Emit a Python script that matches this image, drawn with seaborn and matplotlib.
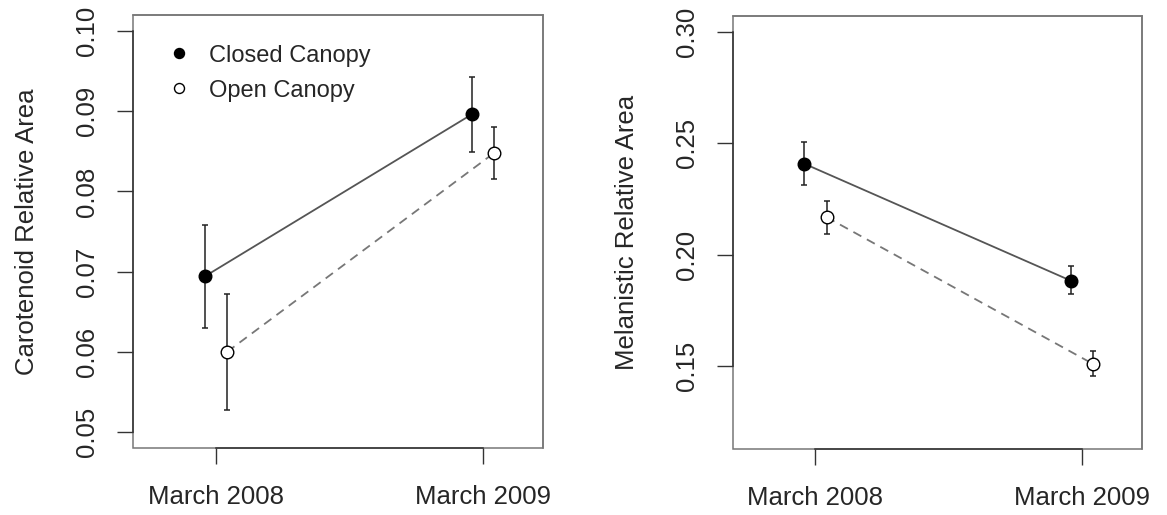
import numpy as np
import pandas as pd
import matplotlib
matplotlib.use("Agg")
import matplotlib.pyplot as plt
from matplotlib.lines import Line2D
import seaborn as sns

# ---- data ----
periods = ["March 2008", "March 2009"]
groups = ["Closed Canopy", "Open Canopy"]

carot_closed = [0.0694, 0.0896]
carot_closed_lo = [0.0630, 0.0849]
carot_closed_hi = [0.0758, 0.0943]
carot_open = [0.0600, 0.0848]
carot_open_lo = [0.0528, 0.0815]
carot_open_hi = [0.0672, 0.0880]

mel_closed = [0.2408, 0.1883]
mel_closed_lo = [0.2313, 0.1823]
mel_closed_hi = [0.2503, 0.1947]
mel_open = [0.2168, 0.1509]
mel_open_lo = [0.2093, 0.1456]
mel_open_hi = [0.2242, 0.1566]

carot_ticks = [0.05, 0.06, 0.07, 0.08, 0.09, 0.10]
mel_ticks = [0.15, 0.20, 0.25, 0.30]

sns.set_theme(style="white")
plt.rcParams['font.family'] = ['Liberation Sans', 'DejaVu Sans']

fig = plt.figure(figsize=(11.67, 5.15), dpi=100)
ax1 = fig.add_axes([0.1142, 0.1301, 0.3513, 0.8408])
ax2 = fig.add_axes([0.6278, 0.1282, 0.3510, 0.8414])

def build(closed, clo, chi, opn, olo, ohi):
    rows = []
    for g, vals, lo, hi in [(groups[0], closed, clo, chi), (groups[1], opn, olo, ohi)]:
        for i, p in enumerate(periods):
            rows.append(dict(group=g, period=p, idx=i + 1, value=vals[i], lo=lo[i], hi=hi[i]))
    return pd.DataFrame(rows)

styles = {
    groups[0]: dict(off=-0.042, ls="-", lc="#555555", mfc="black"),
    groups[1]: dict(off=0.042, ls=(0, (5, 3.5)), lc="#777777", mfc="white"),
}

def draw(ax, df, ticks, ylim, ylabel):
    df = df.copy()
    df["xpos"] = df["idx"] + df["group"].map({g: styles[g]["off"] for g in groups})
    for g in groups:
        sub = df[df["group"] == g]
        st = styles[g]
        sns.lineplot(data=sub, x="xpos", y="value", ax=ax, color=st["lc"], lw=1.3,
                     dashes=False, legend=False, estimator=None, sort=False, zorder=2)
        ax.lines[-1].set_linestyle(st["ls"])
        ax.errorbar(sub["xpos"], sub["value"],
                    yerr=[sub["value"] - sub["lo"], sub["hi"] - sub["value"]],
                    fmt="none", ecolor="#222222", elinewidth=1.1, capsize=1.9, capthick=1.1, zorder=3)
        sns.scatterplot(data=sub, x="xpos", y="value", ax=ax, s=82, color=st["mfc"],
                        edgecolor="black", linewidth=1.0, legend=False, zorder=4)
    ax.set_xlim(0.690, 2.226)
    ax.set_ylim(*ylim)
    ax.set_xticks([1, 2])
    ax.set_xticklabels(periods)
    ax.set_yticks(ticks)
    ax.set_yticklabels([f"{t:.2f}" for t in ticks], rotation=90, va="center")
    ax.set_xlabel("")
    ax.set_ylabel(ylabel, fontsize=18.5, labelpad=26)
    ax.tick_params(axis="both", which="both", direction="out", length=11.5, width=1.0,
                   color="#333333", labelsize=18.5, left=True, bottom=True)
    ax.tick_params(axis="y", pad=13)
    ax.tick_params(axis="x", pad=15)
    for s in ["top", "right"]:
        ax.spines[s].set_color("#777777")
        ax.spines[s].set_linewidth(1.1)
    ax.patch.set_edgecolor("#777777")
    ax.patch.set_linewidth(1.1)
    ax.spines["left"].set_bounds(ticks[0], ticks[-1])
    ax.spines["bottom"].set_bounds(1, 2)
    for s in ["left", "bottom"]:
        ax.spines[s].set_color("#333333")
        ax.spines[s].set_linewidth(1.1)
    ax.grid(False)

df1 = build(carot_closed, carot_closed_lo, carot_closed_hi, carot_open, carot_open_lo, carot_open_hi)
df2 = build(mel_closed, mel_closed_lo, mel_closed_hi, mel_open, mel_open_lo, mel_open_hi)

draw(ax1, df1, carot_ticks, (0.048, 0.102), "Carotenoid Relative Area")
draw(ax2, df2, mel_ticks, (0.1128, 0.3072), "Melanistic Relative Area")

handles = [Line2D([], [], ls="none", marker="o", ms=7.2, mfc="black", mec="black", mew=1.0),
           Line2D([], [], ls="none", marker="o", ms=7.2, mfc="white", mec="black", mew=1.0)]
ax1.legend(handles, groups, loc="upper left", bbox_to_anchor=(0.043, 0.970), frameon=False,
           fontsize=17, handlelength=1.0, handletextpad=0.75, labelspacing=0.56, borderpad=0.2)

fig.savefig("out.png", dpi=100, facecolor="white")
